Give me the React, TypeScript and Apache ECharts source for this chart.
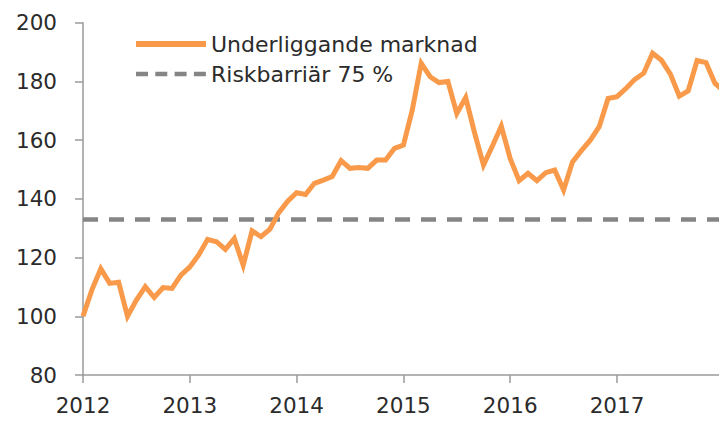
import React, { useEffect, useRef } from "react";
import * as echarts from "echarts";

// Monthly index values (Jan..Dec per year)
const values2012 = [100, 109, 116.2, 111.2, 111.6, 100, 105.5, 110.1, 106.4, 109.8, 109.5, 114];
const values2013 = [116.8, 120.9, 126.2, 125.4, 122.8, 126.5, 117.4, 129.1, 127.1, 129.7, 135.3, 139.2];
const values2014 = [142.1, 141.5, 145.3, 146.4, 147.6, 153, 150.4, 150.7, 150.4, 153.2, 153.2, 157.2];
const values2015 = [158.3, 170.3, 186.2, 181.6, 179.6, 180, 169.1, 174.5, 162.5, 151.5, 158, 164.8];
const values2016 = [153.7, 146.2, 148.7, 146.2, 148.9, 149.8, 143, 152.6, 156.4, 160, 164.6, 174.2];
const values2017 = [174.8, 177.6, 180.7, 182.8, 189.6, 187.2, 182.5, 175, 176.8, 187.1, 186.4, 179.4];
const values2018 = [176.7];

const startYear = 2012;
const yearTicks = [2012, 2013, 2014, 2015, 2016, 2017];
const barrierValue = 133;
const seriesNames = ["Underliggande marknad", "Riskbarriär 75 %"];

const FONT = "'DejaVu Sans', sans-serif";
const WEIGHT = 400;
const TEXT = "#2b2b2b";

export default function App() {
  const ref = useRef<HTMLDivElement>(null);

  useEffect(() => {
    if (!ref.current) return;
    const chart = echarts.init(ref.current, undefined, { renderer: "svg" });
    const all = [
      ...values2012,
      ...values2013,
      ...values2014,
      ...values2015,
      ...values2016,
      ...values2017,
      ...values2018,
    ];
    const lineData = all.map((v, i) => [startYear + i / 12, v]);
    const barrierData = [
      [yearTicks[0], barrierValue],
      [yearTicks[yearTicks.length - 1] + 1, barrierValue],
    ];

    chart.setOption({
      animation: false,
      backgroundColor: "#ffffff",
      textStyle: { fontFamily: FONT, fontWeight: WEIGHT },
      grid: {
        left: 83,
        right: 0,
        top: 22.7,
        bottom: 46,
        containLabel: false,
        outerBoundsMode: "none",
      },
      legend: {
        orient: "vertical",
        left: 133,
        top: 33,
        padding: 0,
        itemWidth: 70,
        itemHeight: 14,
        itemGap: 8,
        itemStyle: { opacity: 0 },
        textStyle: { fontFamily: FONT, fontWeight: WEIGHT, fontSize: 22, color: TEXT, lineHeight: 21 },
        data: [
          { name: seriesNames[0], lineStyle: { width: 6 } },
          { name: seriesNames[1], lineStyle: { type: [12, 7.3], width: 4.5 } },
        ],
      },
      xAxis: {
        type: "value",
        min: 2012,
        max: 2017.955,
        interval: 1,
        axisLine: { show: true, lineStyle: { color: "#9a9a9a", width: 1.5 } },
        axisTick: {
          show: true,
          length: 8,
          customValues: yearTicks,
          lineStyle: { color: "#9a9a9a", width: 1.5 },
        },
        splitLine: { show: false },
        axisLabel: {
          margin: 19,
          fontSize: 21.5,
          color: TEXT,
          fontFamily: FONT,
          fontWeight: WEIGHT,
          customValues: yearTicks,
          formatter: (v: number) => String(Math.round(v)),
        },
      },
      yAxis: {
        type: "value",
        min: 80,
        max: 200,
        interval: 20,
        axisLine: { show: true, lineStyle: { color: "#9a9a9a", width: 1.5 } },
        axisTick: { show: true, length: 8, lineStyle: { color: "#9a9a9a", width: 1.5 } },
        splitLine: { show: false },
        axisLabel: { margin: 26, fontSize: 21.5, color: TEXT, fontFamily: FONT, fontWeight: WEIGHT },
      },
      series: [
        {
          name: seriesNames[1],
          type: "line",
          data: barrierData,
          symbol: "none",
          showSymbol: false,
          z: 2,
          lineStyle: { color: "#858585", width: 4.5, type: [15, 11] },
          itemStyle: { color: "#858585" },
        },
        {
          name: seriesNames[0],
          type: "line",
          data: lineData,
          symbol: "none",
          showSymbol: false,
          z: 3,
          lineStyle: { color: "#F89A4A", width: 5, join: "miter" },
          itemStyle: { color: "#F89A4A" },
        },
      ],
    });
    return () => chart.dispose();
  }, []);

  return (
    <div
      ref={ref}
      style={{ position: "absolute", left: 0, top: 0, width: 719, height: 421 }}
    />
  );
}
